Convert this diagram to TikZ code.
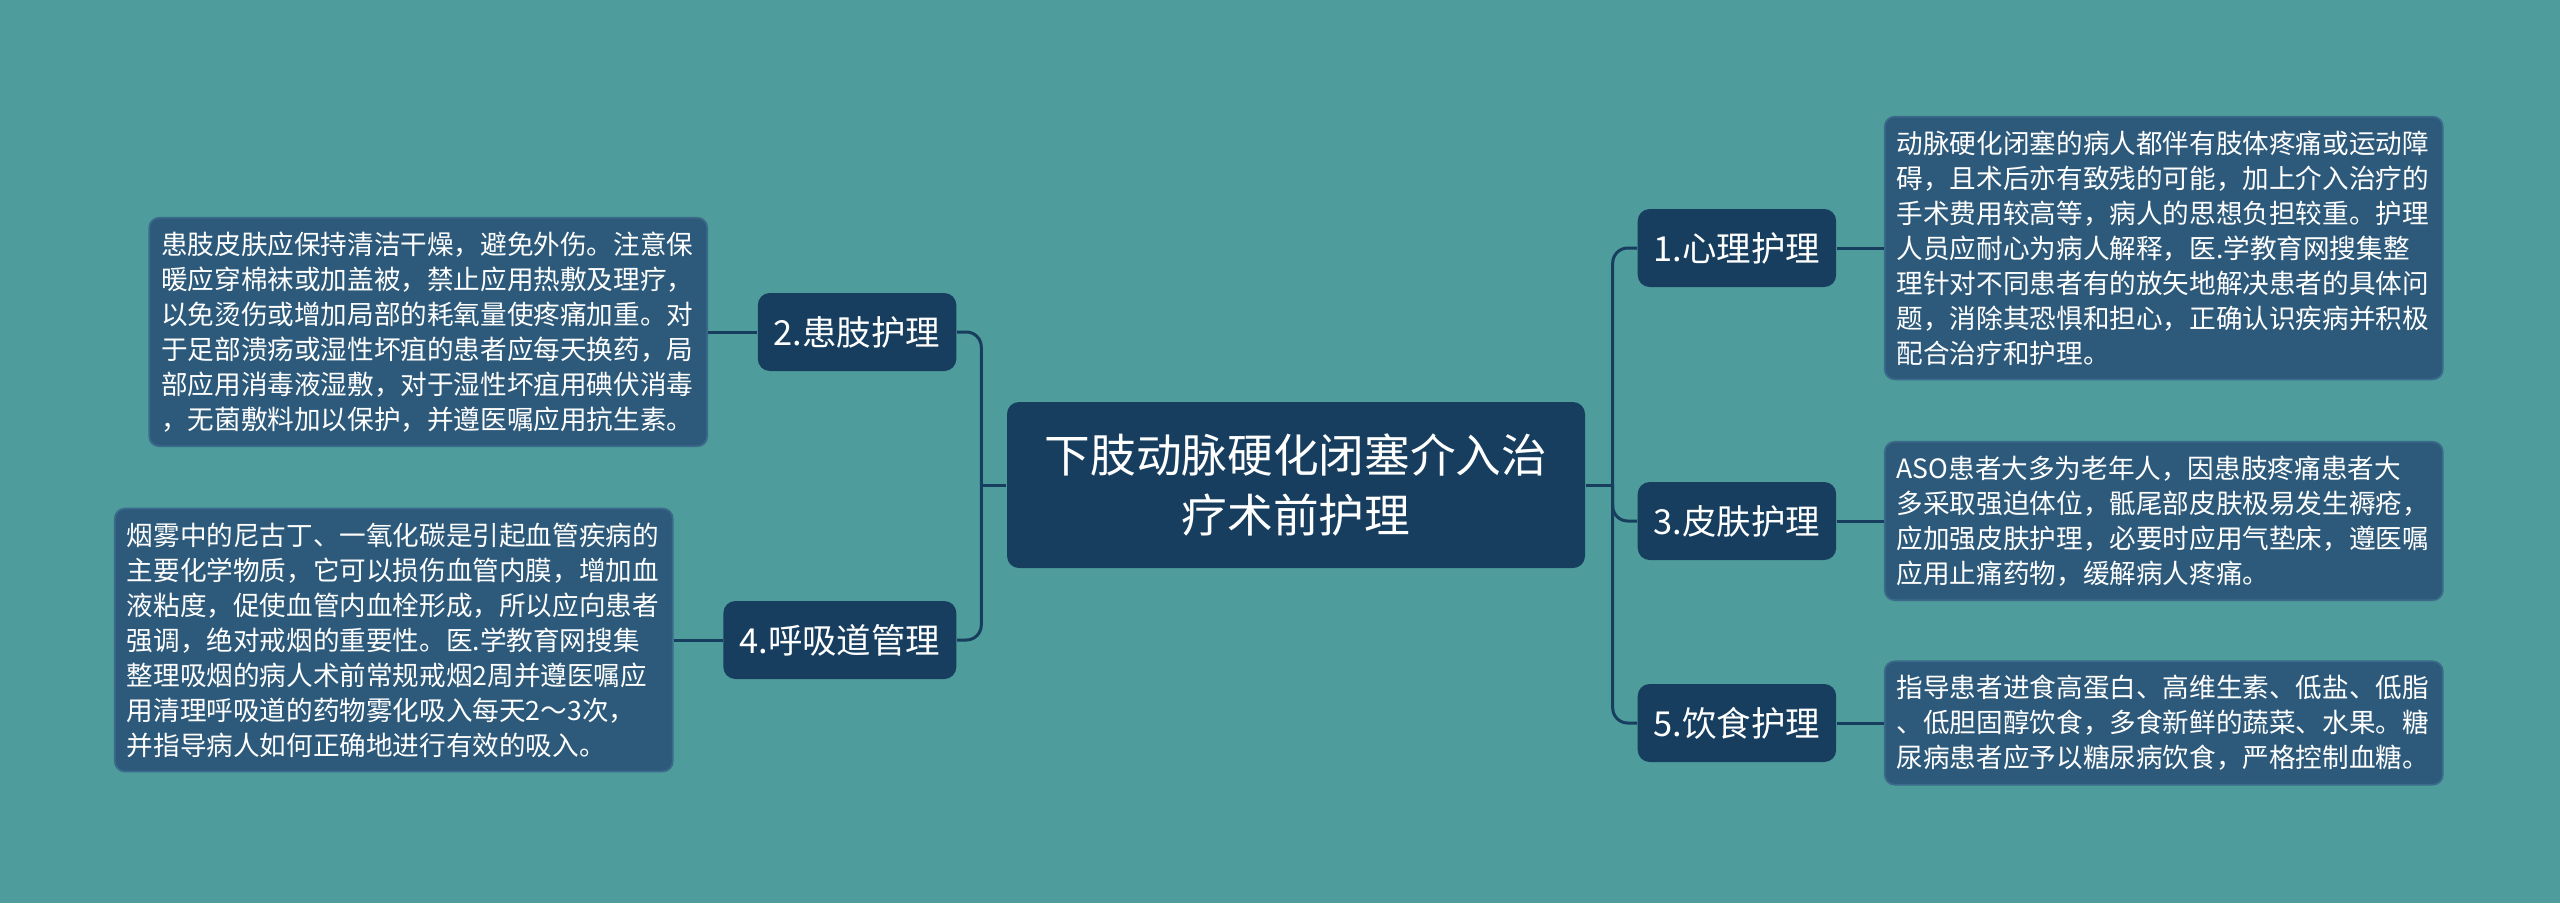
\documentclass[tikz,border=0pt]{standalone}
\usepackage{fontspec}
\setmainfont{Noto Sans CJK SC}
\usetikzlibrary{positioning}
\definecolor{bgteal}{HTML}{4E9C9B}
\definecolor{topicblue}{HTML}{173E5E}
\definecolor{notefill}{HTML}{2D5A7B}
\definecolor{noteedge}{HTML}{3B6A8A}

\begin{document}
\begin{tikzpicture}[
  every node/.style={text=white},
  root/.style={fill=topicblue,rounded corners=0.12cm,minimum width=5.78cm,
    minimum height=1.66cm,align=center,inner sep=0pt,
    font=\fontsize{13pt}{16.8pt}\selectfont},
  topic/.style={fill=topicblue,rounded corners=0.12cm,minimum height=0.78cm,
    inner xsep=0.16cm,font=\fontsize{9.8pt}{12pt}\selectfont},
  note/.style={fill=notefill,draw=noteedge,line width=0.5pt,rounded corners=0.1cm,
    text width=5.34cm,align=left,inner xsep=0.12cm,inner ysep=0.14cm,
    font=\fontsize{7.57pt}{9.96pt}\selectfont},
  link/.style={draw=topicblue,line width=0.03cm,rounded corners=0.15cm}
]
  \fill[bgteal] (0,0) rectangle (25.6,-9.03);
  \useasboundingbox (0,0) rectangle (25.6,-9.03);

  \node[root] (root) at (12.96,-4.85) {下肢动脉硬化闭塞介入治\\疗术前护理};

  \node[topic,anchor=west] (n1) at (16.37,-2.48) {1.心理护理};
  \node[topic,anchor=west] (n3) at (16.37,-5.21) {3.皮肤护理};
  \node[topic,anchor=west] (n5) at (16.37,-7.23) {5.饮食护理};
  \node[topic,anchor=east] (n2) at (9.57,-3.32) {2.患肢护理};
  \node[topic,anchor=east] (n4) at (9.57,-6.40) {4.呼吸道管理};

  \node[note,right=0.47cm of n1] (t1)
    {动脉硬化闭塞的病人都伴有肢体疼痛或运动障\\
     碍，且术后亦有致残的可能，加上介入治疗的\\
     手术费用较高等，病人的思想负担较重。护理\\
     人员应耐心为病人解释，医.学教育网搜集整\\
     理针对不同患者有的放矢地解决患者的具体问\\
     题，消除其恐惧和担心，正确认识疾病并积极\\
     配合治疗和护理。};
  \node[note,right=0.47cm of n3] (t3)
    {ASO患者大多为老年人，因患肢疼痛患者大\\
     多采取强迫体位，骶尾部皮肤极易发生褥疮，\\
     应加强皮肤护理，必要时应用气垫床，遵医嘱\\
     应用止痛药物，缓解病人疼痛。};
  \node[note,right=0.47cm of n5] (t5)
    {指导患者进食高蛋白、高维生素、低盐、低脂\\
     、低胆固醇饮食，多食新鲜的蔬菜、水果。糖\\
     尿病患者应予以糖尿病饮食，严格控制血糖。};
  \node[note,left=0.49cm of n2] (t2)
    {患肢皮肤应保持清洁干燥，避免外伤。注意保\\
     暖应穿棉袜或加盖被，禁止应用热敷及理疗，\\
     以免烫伤或增加局部的耗氧量使疼痛加重。对\\
     于足部溃疡或湿性坏疽的患者应每天换药，局\\
     部应用消毒液湿敷，对于湿性坏疽用碘伏消毒\\
     ，无菌敷料加以保护，并遵医嘱应用抗生素。};
  \node[note,left=0.49cm of n4] (t4)
    {烟雾中的尼古丁、一氧化碳是引起血管疾病的\\
     主要化学物质，它可以损伤血管内膜，增加血\\
     液粘度，促使血管内血栓形成，所以应向患者\\
     强调，绝对戒烟的重要性。医.学教育网搜集\\
     整理吸烟的病人术前常规戒烟2周并遵医嘱应\\
     用清理呼吸道的药物雾化吸入每天2～3次，\\
     并指导病人如何正确地进行有效的吸入。};

  \coordinate[right=0.27cm of root.east] (rfork);
  \coordinate[left=0.25cm of root.west] (lfork);
  \draw[link] (root.east) -- (rfork);
  \draw[link] (rfork) |- (n1.west);
  \draw[link] (rfork) |- (n3.west);
  \draw[link] (rfork) |- (n5.west);
  \draw[link] (root.west) -- (lfork);
  \draw[link] (lfork) |- (n2.east);
  \draw[link] (lfork) |- (n4.east);

  \draw[link] (n1.east) -- (t1.west);
  \draw[link] (n3.east) -- (t3.west);
  \draw[link] (n5.east) -- (t5.west);
  \draw[link] (n2.west) -- (t2.east);
  \draw[link] (n4.west) -- (t4.east);
\end{tikzpicture}
\end{document}
